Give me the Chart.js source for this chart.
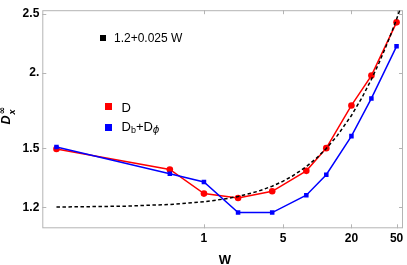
<!DOCTYPE html>
<html>
<head>
<meta charset="utf-8">
<script src="https://cdn.jsdelivr.net/npm/chart.js@4"></script>
<style>
  body { margin: 0; background: #fff; }
  #wrap { width: 407px; height: 265px; position: relative; }
</style>
</head>
<body>
<div id="wrap"><canvas id="chart"></canvas></div>
<script>
const W = [0.05, 0.5, 1, 2, 4, 8, 12, 20, 30, 50]
const valuesD = [1.497, 1.385, 1.264, 1.243, 1.275, 1.378, 1.502, 1.766, 1.978, 2.421]
const valuesDbDphi = [1.508, 1.363, 1.321, 1.176, 1.176, 1.256, 1.358, 1.572, 1.814, 2.21]
// dashed reference curve
const fitW = [0.05, 0.1, 0.2, 0.5, 1, 1.5, 2, 3, 4, 5, 6, 8, 10, 12, 15, 20, 25, 30, 35, 40, 45, 50, 54]
const fitValues = [1.201, 1.203, 1.205, 1.213, 1.225, 1.238, 1.25, 1.275, 1.3, 1.325, 1.35, 1.4, 1.45, 1.5, 1.575, 1.7, 1.825, 1.95, 2.075, 2.2, 2.325, 2.45, 2.55]
const xTicks = [1, 5, 20, 50]
const yTicks = [1.2, 1.5, 2, 2.5]
const yTickLabels = ['1.2', '1.5', '2.', '2.5']

const toPoints = (xs, ys) => xs.map((x, i) => ({ x, y: ys[i] }))
const frameColor = '#b4b4b4'
const sans = '"Liberation Sans", Arial, sans-serif'

const framePlugin = {
  id: 'frame',
  beforeDatasetsDraw(chart) {
    const { ctx, chartArea: a, scales } = chart
    ctx.save()
    ctx.strokeStyle = frameColor
    ctx.lineWidth = 1
    ctx.strokeRect(a.left + 0.5, a.top + 0.5, a.right - a.left - 1, a.bottom - a.top - 1)
    ctx.beginPath()
    xTicks.forEach((v) => {
      const px = Math.round(scales.x.getPixelForValue(v)) + 0.5
      ctx.moveTo(px, a.bottom); ctx.lineTo(px, a.bottom - 4)
      ctx.moveTo(px, a.top); ctx.lineTo(px, a.top + 4)
    })
    yTicks.forEach((v) => {
      const py = Math.round(scales.y.getPixelForValue(v)) + 0.5
      ctx.moveTo(a.left, py); ctx.lineTo(a.left + 4, py)
      ctx.moveTo(a.right, py); ctx.lineTo(a.right - 4, py)
    })
    ctx.stroke()
    ctx.restore()
  },
  afterDraw(chart) {
    const { ctx } = chart
    ctx.save()
    ctx.fillStyle = '#000'
    ctx.textBaseline = 'alphabetic'
    // legend
    ctx.fillRect(100, 35, 6, 6)
    ctx.font = '12px ' + sans
    ctx.fillText('1.2+0.025 W', 114, 42)
    ctx.fillStyle = 'rgb(255,0,0)'
    ctx.fillRect(105, 103, 7, 7)
    ctx.fillStyle = 'rgb(0,0,255)'
    ctx.fillRect(105, 124, 7, 7)
    ctx.fillStyle = '#000'
    ctx.font = '13px ' + sans
    ctx.fillText('D', 121.5, 111.5)
    let x = 121.5
    ctx.fillText('D', x, 130.5)
    x += ctx.measureText('D').width
    ctx.font = '9px ' + sans
    ctx.fillText('b', x, 133)
    x += ctx.measureText('b').width
    ctx.font = '13px ' + sans
    ctx.fillText('+D', x, 130.5)
    x += ctx.measureText('+D').width
    ctx.font = 'italic 10px "DejaVu Sans", sans-serif'
    ctx.fillText('\u03d5', x, 133)
    // x title
    ctx.font = 'bold 13px ' + sans
    ctx.textAlign = 'center'
    ctx.fillText('W', 225, 264)
    // y title
    ctx.textAlign = 'left'
    ctx.translate(10, 124.5)
    ctx.rotate(-Math.PI / 2)
    ctx.font = 'bold italic 12.5px ' + sans
    ctx.fillText('D', 0, 0)
    const dw = ctx.measureText('D').width
    ctx.font = 'bold italic 9px ' + sans
    ctx.fillText('x', dw + 1, 4.5)
    ctx.font = 'bold 9px "DejaVu Sans", sans-serif'
    ctx.fillText('\u221e', dw + 1, -5)
    ctx.restore()
  },
}

new Chart(document.getElementById('chart'), {
  type: 'scatter',
  data: {
    datasets: [
      {
        label: '1.2+0.025 W',
        data: toPoints(fitW, fitValues),
        showLine: true,
        borderColor: '#000',
        borderWidth: 1.5,
        borderDash: [3.5, 2.5],
        pointRadius: 0,
        order: 0,
      },
      {
        label: 'D',
        data: toPoints(W, valuesD),
        showLine: true,
        borderColor: 'rgb(255,0,0)',
        backgroundColor: 'rgb(255,0,0)',
        borderWidth: 1.5,
        pointStyle: 'circle',
        pointRadius: 3.3,
        pointBorderWidth: 0,
        order: 2,
      },
      {
        label: 'Db+Dφ',
        data: toPoints(W, valuesDbDphi),
        showLine: true,
        borderColor: 'rgb(0,0,255)',
        backgroundColor: 'rgb(0,0,255)',
        borderWidth: 1.5,
        pointStyle: 'rect',
        pointRadius: 3.2,
        pointBorderWidth: 0,
        order: 1,
      },
    ],
  },
  options: {
    responsive: true,
    maintainAspectRatio: false,
    animation: false,
    layout: { padding: { left: 0, right: 1, top: 1.7, bottom: 0 } },
    plugins: { legend: { display: false }, tooltip: { enabled: false } },
    scales: {
      x: {
        type: 'logarithmic',
        min: 0.0375,
        max: 57,
        afterFit: (s) => { s.height = 36.7 },
        afterBuildTicks: (s) => { s.ticks = xTicks.map((v) => ({ value: v })) },
        grid: { drawOnChartArea: false, drawTicks: false },
        border: { display: false },
        ticks: {
          autoSkip: false,
          maxRotation: 0,
          padding: 3,
          color: '#000',
          font: { family: sans, size: 12, weight: 'bold' },
          callback: (v) => String(v),
        },
      },
      y: {
        type: 'logarithmic',
        min: 1.108,
        max: 2.535,
        afterFit: (s) => { s.width = 42.3 },
        afterBuildTicks: (s) => { s.ticks = yTicks.map((v) => ({ value: v })) },
        grid: { drawOnChartArea: false, drawTicks: false },
        border: { display: false },
        ticks: {
          autoSkip: false,
          padding: 3,
          color: '#000',
          font: { family: sans, size: 12, weight: 'bold' },
          callback: (v) => yTickLabels[yTicks.indexOf(v)] ?? '',
        },
      },
    },
  },
  plugins: [framePlugin],
})
</script>
</body>
</html>
